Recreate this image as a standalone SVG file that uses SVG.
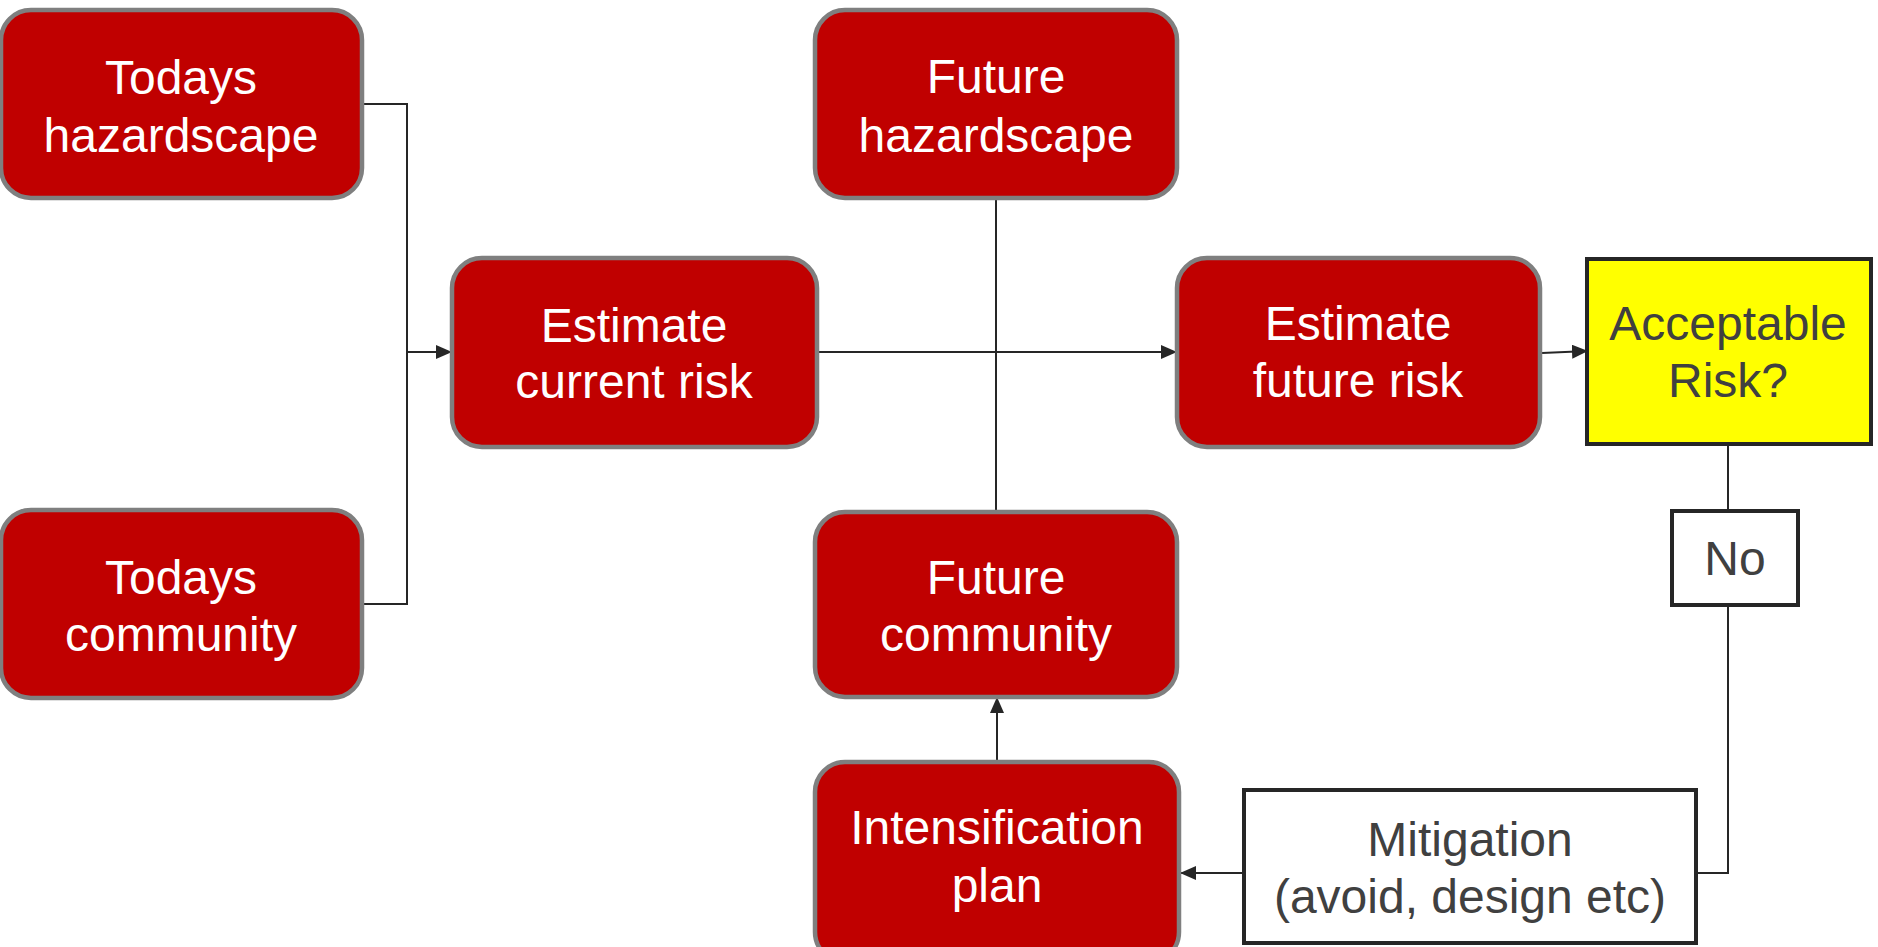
<svg xmlns="http://www.w3.org/2000/svg" width="1878" height="947" viewBox="0 0 1878 947">
<style>
.r{fill:#c00000;stroke:#7f7f7f;stroke-width:4.5}
.w{fill:#ffffff;stroke:#262626;stroke-width:4}
.y{fill:#ffff00;stroke:#262626;stroke-width:4}
.t{font-family:"Liberation Sans",Arial,sans-serif;font-size:48px;text-anchor:middle;fill:#ffffff}
.g{fill:#404040}
.c{fill:none;stroke:#262626;stroke-width:2}
</style>
<defs>
<marker id="a" viewBox="0 0 16 14" refX="16" refY="7" markerWidth="16" markerHeight="14" markerUnits="userSpaceOnUse" orient="auto">
<path d="M0,0 L16,7 L0,14 z" fill="#262626"/>
</marker>
</defs>
<g id="connectors">
<path class="c" d="M362,104 H407 V604 H362"/>
<path class="c" d="M407,352 H452" marker-end="url(#a)"/>
<path class="c" d="M817,352 H1177" marker-end="url(#a)"/>
<path class="c" d="M996,198 V512"/>
<path class="c" d="M1542,353 L1588,351" marker-end="url(#a)"/>
<path class="c" d="M1728,444 V510"/>
<path class="c" d="M1728,605 V873 H1696"/>
<path class="c" d="M1244,873 H1180" marker-end="url(#a)"/>
<path class="c" d="M997,762 V697" marker-end="url(#a)"/>
</g>
<g id="todays-hazardscape">
<rect class="r" x="1" y="10" width="361" height="188" rx="30"/>
<text class="t" x="181" y="94">Todays</text>
<text class="t" x="181" y="152">hazardscape</text>
</g>
<g id="todays-community">
<rect class="r" x="1" y="510" width="361" height="188" rx="30"/>
<text class="t" x="181" y="594">Todays</text>
<text class="t" x="181" y="651">community</text>
</g>
<g id="estimate-current-risk">
<rect class="r" x="452" y="258" width="365" height="189" rx="30"/>
<text class="t" x="634" y="342">Estimate</text>
<text class="t" x="634" y="398">current risk</text>
</g>
<g id="future-hazardscape">
<rect class="r" x="815" y="10" width="362" height="188" rx="30"/>
<text class="t" x="996" y="93">Future</text>
<text class="t" x="996" y="152">hazardscape</text>
</g>
<g id="future-community">
<rect class="r" x="815" y="512" width="362" height="185" rx="30"/>
<text class="t" x="996" y="594">Future</text>
<text class="t" x="996" y="651">community</text>
</g>
<g id="estimate-future-risk">
<rect class="r" x="1177" y="258" width="363" height="189" rx="30"/>
<text class="t" x="1358" y="340">Estimate</text>
<text class="t" x="1358" y="397">future risk</text>
</g>
<g id="acceptable-risk">
<rect class="y" x="1587" y="259" width="284" height="185"/>
<text class="t g" x="1728" y="340">Acceptable</text>
<text class="t g" x="1728" y="397">Risk?</text>
</g>
<g id="no">
<rect class="w" x="1672" y="511" width="126" height="94"/>
<text class="t g" x="1735" y="575">No</text>
</g>
<g id="intensification-plan">
<rect class="r" x="815" y="762" width="364" height="200" rx="30"/>
<text class="t" x="997" y="844">Intensification</text>
<text class="t" x="997" y="902">plan</text>
</g>
<g id="mitigation">
<rect class="w" x="1244" y="790" width="452" height="153"/>
<text class="t g" x="1470" y="856">Mitigation</text>
<text class="t g" x="1470" y="913">(avoid, design etc)</text>
</g>
</svg>
